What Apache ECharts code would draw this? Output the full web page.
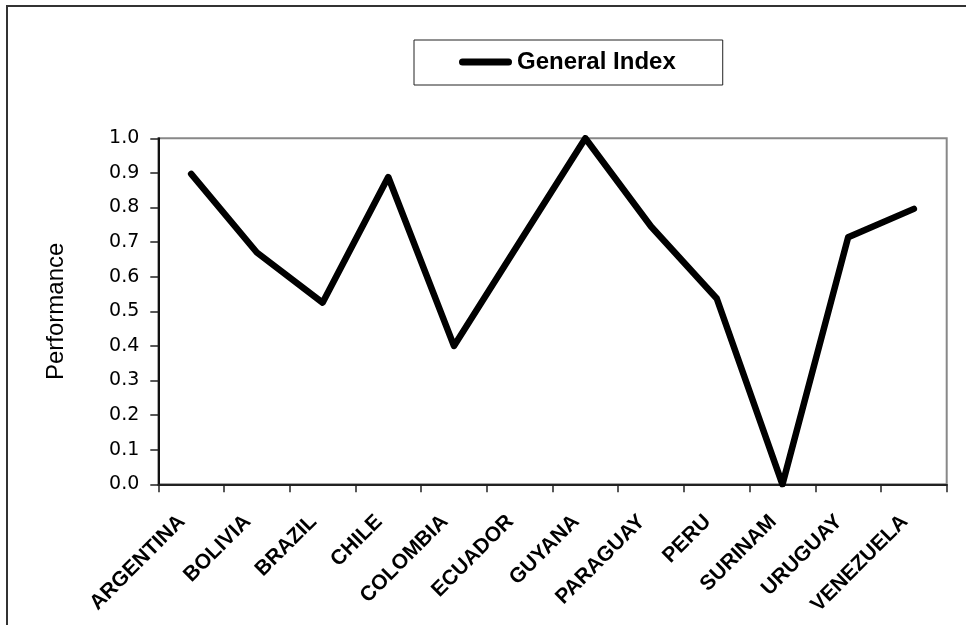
<!DOCTYPE html>
<html>
<head>
<meta charset="utf-8">
<script src="https://cdn.jsdelivr.net/npm/echarts@6/dist/echarts.min.js"></script>
<style>
html,body{margin:0;padding:0;background:#fff;}
#chart{width:966px;height:625px;}
</style>
</head>
<body>
<div id="chart"></div>
<script>
const categories = ['ARGENTINA','BOLIVIA','BRAZIL','CHILE','COLOMBIA','ECUADOR','GUYANA','PARAGUAY','PERU','SURINAM','URUGUAY','VENEZUELA'];
const generalIndex = [0.897, 0.67, 0.525, 0.888, 0.40, 0.70, 1.0, 0.745, 0.537, 0.0, 0.714, 0.796];
const seriesName = 'General Index';
const yAxisName = 'Performance';

const chart = echarts.init(document.getElementById('chart'));
chart.setOption({
  animation: false,
  backgroundColor: '#fff',
  graphic: [{
    type: 'rect',
    shape: { x: 7, y: 6, width: 1000, height: 700 },
    style: { fill: 'none', stroke: '#333', lineWidth: 2 },
    silent: true
  }],
  legend: {
    left: 414,
    top: 40,
    padding: [10, 47, 11, 45],
    borderColor: '#222',
    borderWidth: 1,
    backgroundColor: '#fff',
    itemWidth: 53,
    itemHeight: 7,
    itemGap: 5,
    icon: 'path://M3.5,0 L49.5,0 A3.5,3.5 0 0 1 49.5,7 L3.5,7 A3.5,3.5 0 0 1 3.5,0 Z',
    textStyle: { fontFamily: 'Liberation Sans', fontSize: 24, fontWeight: 'bold', color: '#000' },
    data: [seriesName]
  },
  grid: {
    left: 158.3, right: 19.3, top: 138.3, bottom: 140.7,
    show: true, borderColor: '#888', borderWidth: 2, backgroundColor: '#fff'
  },
  xAxis: {
    type: 'category',
    data: categories,
    boundaryGap: true,
    axisLine: { lineStyle: { color: '#222', width: 2 } },
    axisTick: { show: true, length: 8, interval: 0, lineStyle: { color: '#222', width: 1.5 } },
    axisLabel: {
      interval: 0, rotate: 45, margin: 25,
      padding: [0, 13, 0, 0],
      fontFamily: 'Liberation Sans', fontSize: 21, fontWeight: 'bold', color: '#000'
    },
    splitLine: { show: false }
  },
  yAxis: {
    type: 'value',
    min: 0, max: 1, interval: 0.1,
    name: yAxisName,
    nameLocation: 'middle',
    nameGap: 90,
    nameTextStyle: { fontFamily: 'Liberation Sans', fontSize: 24, color: '#000' },
    axisLine: { show: true, lineStyle: { color: '#111', width: 2 } },
    axisTick: { show: true, length: 8, lineStyle: { color: '#222', width: 1.5 } },
    axisLabel: {
      margin: 19,
      fontFamily: 'DejaVu Sans', fontSize: 19, color: '#000',
      formatter: v => v.toFixed(1)
    },
    splitLine: { show: false }
  },
  series: [{
    name: seriesName,
    type: 'line',
    data: generalIndex,
    symbol: 'none',
    color: '#000',
    lineStyle: { color: '#000', width: 6.5, cap: 'round', join: 'round' }
  }]
});
</script>
</body>
</html>
